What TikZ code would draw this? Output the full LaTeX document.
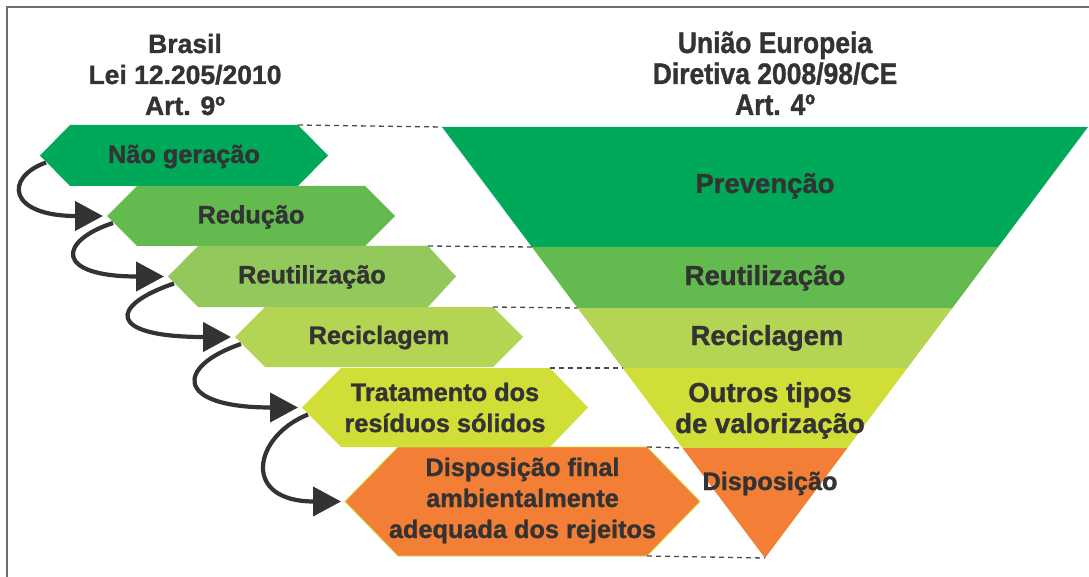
\documentclass[tikz,border=0pt]{standalone}
\usepackage{fontspec}
\setmainfont{Liberation Sans}[BoldFeatures={FakeBold=1.2}]
\usetikzlibrary{arrows.meta,calc}
\definecolor{cA}{HTML}{00A85A}
\definecolor{cB}{HTML}{63BB50}
\definecolor{cC}{HTML}{93C85C}
\definecolor{cD}{HTML}{B4D454}
\definecolor{cE}{HTML}{D1DE38}
\definecolor{cF}{HTML}{F27F35}
\definecolor{txt}{HTML}{333333}
\definecolor{cDash}{HTML}{4A4A4A}
\definecolor{cFrame}{HTML}{6E6E6E}
\begin{document}
\begin{tikzpicture}[x=1pt,y=-1pt,
  lab/.style={text=txt, font=\bfseries\fontsize{25.3}{31}\selectfont, align=center, inner sep=0pt, anchor=base},
  plab/.style={lab, font=\bfseries\fontsize{27.5}{31}\selectfont},
  ttl/.style={lab, font=\bfseries\fontsize{26.5}{31}\selectfont},
  link/.style={draw=cDash, dash pattern=on 5pt off 4pt, line width=1.3pt},
  flow/.style={draw=txt, line width=4.2pt, -{Triangle[length=28pt,width=29pt]}},
  frame/.style={draw=cFrame, line width=1.5pt}]
\useasboundingbox (0,0) rectangle (1089,577);
\fill[white] (0,0) rectangle (1089,577);
\draw[frame] (7,577) -- (7,7) -- (1089,7);

% titles (anchor = baseline of the last line)
\node[ttl] (tBR) at (185,115) {Brasil\\Lei 12.205/2010\\Art. 9º};
\node[ttl] (tEU) at (775,115) {\scalebox{1}[1.12]{União Europeia}\\\scalebox{1}[1.12]{Diretiva 2008/98/CE}\\\scalebox{1}[1.12]{Art. 4º}};

% pyramid (EU)
\fill[cA] (442,127) coordinate (p0l) -- (1088,127) -- (998.1,247) -- (531.9,247) coordinate (p1l) -- cycle;
\fill[cB] (531.9,247) -- (998.1,247) -- (952.4,308) -- (577.6,308) coordinate (p2l) -- cycle;
\fill[cD] (577.6,308) -- (952.4,308) -- (907.4,368) -- (622.6,368) coordinate (p3l) -- cycle;
\fill[cE] (622.6,368) -- (907.4,368) -- (847.4,448) -- (682.6,448) coordinate (p4l) -- cycle;
\fill[cF] (682.6,448) -- (847.4,448) -- (765,558) coordinate (apex) -- cycle;

\node[plab] (e1) at (765,193) {Prevenção};
\node[plab] (e2) at (765,285) {Reutilização};
\node[plab] (e3) at (767,345) {Reciclagem};
\node[plab] (e4) at (770,433) {Outros tipos\\de valorização};
\node[lab] (e5) at (770,490) {Disposição};

% hexagons (Brasil)
\fill[cA] (40,155.5) coordinate (h1L) -- (70,125) -- (298,125) coordinate (h1TR) -- (328,155.5) -- (298,186) -- (70,186) -- cycle;
\fill[cB] (107,216) coordinate (h2L) -- (137,186) -- (365,186) -- (395,216) -- (365,246) -- (137,246) -- cycle;
\fill[cC] (168,276.5) coordinate (h3L) -- (198,246) -- (428,246) coordinate (h3TR) -- (456,276.5) -- (428,307) -- (198,307) -- cycle;
\fill[cD] (235,337) coordinate (h4L) -- (265,307) -- (493,307) coordinate (h4TR) -- (523,337) -- (493,367) -- (265,367) -- cycle;
\fill[cE] (302,407.5) coordinate (h5L) -- (341,368) -- (550,368) coordinate (h5TR) -- (588,407.5) -- (550,447) -- (341,447) -- cycle;
\path[fill=cF, draw=cE, line width=0.8pt] (345,501.5) coordinate (h6L) -- (398,447) -- (647,447) coordinate (h6TR) -- (700,501.5) -- (647,556) coordinate (h6BR) -- (398,556) -- cycle;

\node[lab] (b1) at (184,163) {Não geração};
\node[lab] (b2) at (251,223.5) {Redução};
\node[lab] (b3) at (312,283.5) {Reutilização};
\node[lab] (b4) at (379,344) {Reciclagem};
\node[lab] (b5) at (445,432) {Tratamento dos\\resíduos sólidos};
\node[lab] (b6) at (522.5,538) {Disposição final\\ambientalmente\\adequada dos rejeitos};

% dashed links
\draw[link] (h1TR) -- (p0l);
\draw[link] (h3TR) -- (p1l);
\draw[link] (h4TR) -- (p2l);
\draw[link] (h5TR) -- (p3l);
\draw[link] (h6TR) -- (p4l);
\draw[link] (h6BR) -- (apex);

% flow arrows
\draw[flow] ($(h1L)+(6,7)$) .. controls +(-42,15) and +(-95,0) .. ($(h2L)+(-4,0)$);
\draw[flow] ($(h2L)+(6,7)$) .. controls +(-55,18) and +(-110,0) .. ($(h3L)+(-4,0)$);
\draw[flow] ($(h3L)+(6,7)$) .. controls +(-65,22) and +(-125,0) .. ($(h4L)+(-4,0)$);
\draw[flow] ($(h4L)+(6,7)$) .. controls +(-65,22) and +(-125,0) .. ($(h5L)+(-4,0)$);
\draw[flow] ($(h5L)+(6,7)$) .. controls +(-55,22) and +(-100,0) .. ($(h6L)+(-4,0)$);
\end{tikzpicture}
\end{document}
